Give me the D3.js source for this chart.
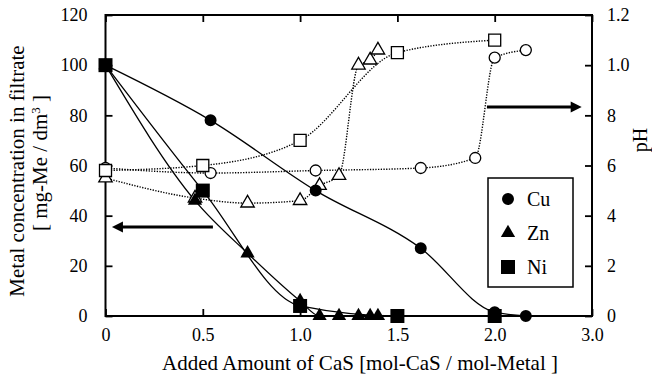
<!DOCTYPE html>
<html>
<head>
<meta charset="utf-8">
<script src="https://cdn.jsdelivr.net/npm/d3@7"></script>
<style>
  body { margin: 0; background: #fff; }
  svg { display: block; font-family: "Liberation Serif", "Times New Roman", serif; }
</style>
</head>
<body>
<div class="chart-container"></div>
<script>
const SVG_WIDTH = 652;
const SVG_HEIGHT = 376;

// metal concentration (filled, solid lines)
const cuX = [0, 0.54, 1.08, 1.62, 2.0, 2.16];
const cuConc = [100, 78, 50, 27, 1.5, 0];
const znX = [0, 0.46, 0.73, 1.0, 1.10, 1.20, 1.30, 1.36, 1.40];
const znConc = [100, 46, 25, 6, 0, 0, 0, 0, 0];
const niX = [0, 0.5, 1.0, 1.5, 2.0];
const niConc = [100, 50, 4, 0, 0];

// pH (open, dotted lines)
const cuPhX = [0, 0.54, 1.08, 1.62, 1.90, 2.0, 2.16];
const cuPh = [5.9, 5.7, 5.8, 5.9, 6.3, 10.3, 10.6];
const znPhX = [0, 0.46, 0.73, 1.0, 1.10, 1.20, 1.30, 1.36, 1.40];
const znPh = [5.5, 4.7, 4.5, 4.6, 5.2, 5.6, 10.0, 10.2, 10.6];
const niPhX = [0, 0.5, 1.0, 1.5, 2.0];
const niPh = [5.8, 6.0, 7.0, 10.5, 11.0];

// tick labels (as printed)
const xTicks = [0, 0.5, 1.0, 1.5, 2.0, 2.5];
const xTickLabels = ["0", "0.5", "1.0", "1.5", "2.0", "3.0"];
const yTicks = [0, 20, 40, 60, 80, 100, 120];
const phTicks = [0, 2, 4, 6, 8, 10, 12];
const phTickLabels = ["0", "2", "4", "6", "8", "1.0", "1.2"];

const legendNames = ["Cu", "Zn", "Ni"];

const margin = {left: 105.5, right: 60, top: 15, bottom: 60};

const svg = d3.select(".chart-container")
    .append("svg")
    .attr("width", SVG_WIDTH)
    .attr("height", SVG_HEIGHT);

const x = d3.scaleLinear().domain([0, 2.5]).range([margin.left, SVG_WIDTH - margin.right]);
const y = d3.scaleLinear().domain([0, 120]).range([SVG_HEIGHT - margin.bottom, margin.top]);
const yPh = d3.scaleLinear().domain([0, 12]).range([SVG_HEIGHT - margin.bottom, margin.top]);

const plotW = x.range()[1] - x.range()[0];
const plotH = y.range()[0] - y.range()[1];

function zip(xs, ys) {
    return xs.map((v, i) => [v, ys[i]]);
}

function styleAxis(g, fontSize) {
    g.select(".domain").remove();
    g.selectAll(".tick line").attr("stroke", "#000").attr("stroke-width", 1.8);
    g.selectAll(".tick text")
        .attr("fill", "#000")
        .style("font-family", "Liberation Serif")
        .style("font-size", fontSize + "px");
}

// axes, ticks inward
svg.append("g")
    .attr("transform", `translate(0,${y.range()[0]})`)
    .call(d3.axisBottom(x).tickValues(xTicks).tickFormat((d, i) => xTickLabels[i]).tickSizeInner(-7).tickSizeOuter(0).tickPadding(12))
    .call(g => styleAxis(g, 18));

svg.append("g")
    .attr("transform", `translate(0,${y.range()[1]})`)
    .call(d3.axisTop(x).tickValues(xTicks).tickFormat("").tickSizeInner(-7).tickSizeOuter(0))
    .call(g => styleAxis(g, 18));

svg.append("g")
    .attr("transform", `translate(${x.range()[0]},0)`)
    .call(d3.axisLeft(y).tickValues(yTicks).tickSizeInner(-7).tickSizeOuter(0).tickPadding(18))
    .call(g => styleAxis(g, 18));

svg.append("g")
    .attr("transform", `translate(${x.range()[1]},0)`)
    .call(d3.axisRight(yPh).tickValues(phTicks).tickFormat((d, i) => phTickLabels[i]).tickSizeInner(-7).tickSizeOuter(0).tickPadding(15))
    .call(g => styleAxis(g, 18));

svg.append("rect")
    .attr("x", x.range()[0])
    .attr("y", y.range()[1])
    .attr("width", plotW)
    .attr("height", plotH)
    .attr("fill", "none")
    .attr("stroke", "#000")
    .attr("stroke-width", 2);

// axis titles
svg.append("text")
    .attr("x", 360)
    .attr("y", 370)
    .attr("text-anchor", "middle")
    .style("font-size", "21px")
    .text("Added Amount of CaS [mol-CaS / mol-Metal ]");

svg.append("text")
    .attr("transform", "translate(24,171) rotate(-90)")
    .attr("text-anchor", "middle")
    .style("font-size", "21px")
    .text("Metal concentration in filtrate");

const yt2 = svg.append("text")
    .attr("transform", "translate(47,163) rotate(-90)")
    .attr("text-anchor", "middle")
    .style("font-size", "21px");
yt2.append("tspan").text("[ mg-Me / dm");
yt2.append("tspan").attr("baseline-shift", "super").style("font-size", "13px").text("3");
yt2.append("tspan").text(" ]");

svg.append("text")
    .attr("transform", "translate(647,140) rotate(-90)")
    .attr("text-anchor", "middle")
    .style("font-size", "20px")
    .text("pH");

// lines
const line = d3.line().x(d => x(d[0])).y(d => y(d[1])).curve(d3.curveMonotoneX);
const phLine = d3.line().x(d => x(d[0])).y(d => yPh(d[1])).curve(d3.curveMonotoneX);

const phSeries = [
    {pts: zip(cuPhX, cuPh), sym: d3.symbolCircle, size: 95},
    {pts: zip(znPhX, znPh), sym: d3.symbolTriangle, size: 78},
    {pts: zip(niPhX, niPh), sym: d3.symbolSquare, size: 144}
];
const concSeries = [
    {pts: zip(cuX, cuConc), sym: d3.symbolCircle, size: 113},
    {pts: zip(znX, znConc), sym: d3.symbolTriangle, size: 88},
    {pts: zip(niX, niConc), sym: d3.symbolSquare, size: 196}
];

phSeries.forEach(s => {
    svg.append("path")
        .attr("d", phLine(s.pts))
        .attr("fill", "none")
        .attr("stroke", "#000")
        .attr("stroke-width", 1.4)
        .attr("stroke-dasharray", "1.3,1.4");
});

concSeries.forEach(s => {
    svg.append("path")
        .attr("d", line(s.pts))
        .attr("fill", "none")
        .attr("stroke", "#000")
        .attr("stroke-width", 1.3);
});

phSeries.forEach(s => {
    svg.append("g").selectAll("path")
        .data(s.pts)
        .join("path")
        .attr("transform", d => `translate(${x(d[0])},${yPh(d[1])})`)
        .attr("d", d3.symbol().type(s.sym).size(s.size))
        .attr("fill", "#fff")
        .attr("stroke", "#000")
        .attr("stroke-width", 1.3);
});

concSeries.forEach(s => {
    svg.append("g").selectAll("path")
        .data(s.pts)
        .join("path")
        .attr("transform", d => `translate(${x(d[0])},${y(d[1])})`)
        .attr("d", d3.symbol().type(s.sym).size(s.size))
        .attr("fill", "#000");
});

// arrows (data units)
function arrow(x0, x1, yv) {
    const dir = Math.sign(x1 - x0);
    const tipX = x(x1);
    const yy = y(yv);
    svg.append("line")
        .attr("x1", x(x0)).attr("x2", tipX - dir * 9)
        .attr("y1", yy).attr("y2", yy)
        .attr("stroke", "#000")
        .attr("stroke-width", 3);
    svg.append("path")
        .attr("d", `M${tipX},${yy} L${tipX - dir * 11},${yy - 5.5} L${tipX - dir * 11},${yy + 5.5} Z`)
        .attr("fill", "#000");
}
arrow(0.552, 0.033, 35.5);
arrow(1.96, 2.447, 83.3);

// legend
const legend = svg.append("g").attr("transform", "translate(488,178)");
legend.append("rect")
    .attr("width", 85)
    .attr("height", 109)
    .attr("fill", "#fff")
    .attr("stroke", "#000")
    .attr("stroke-width", 1.5);

legendNames.forEach((name, i) => {
    const ly = 21 + i * 34;
    legend.append("path")
        .attr("transform", `translate(20,${ly})`)
        .attr("d", d3.symbol().type(concSeries[i].sym).size(concSeries[i].size))
        .attr("fill", "#000");
    legend.append("text")
        .attr("x", 39)
        .attr("y", ly)
        .attr("dy", "0.35em")
        .style("font-size", "20px")
        .text(name);
});
</script>
</body>
</html>
